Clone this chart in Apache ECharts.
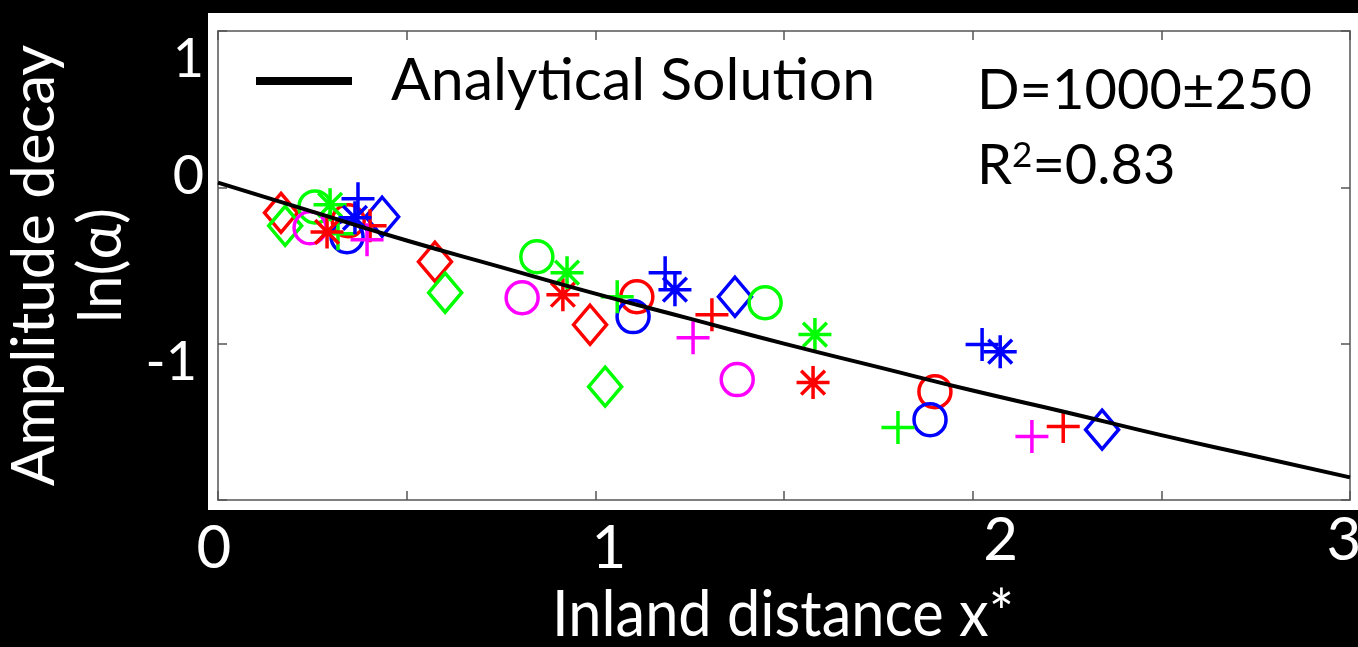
<!DOCTYPE html>
<html>
<head>
<meta charset="utf-8">
<title>Amplitude decay vs inland distance</title>
<script src="https://cdn.jsdelivr.net/npm/echarts@6/dist/echarts.min.js"></script>
<style>
  html, body { margin: 0; padding: 0; background: #000; overflow: hidden; }
  #chart { width: 1358px; height: 647px; }
</style>
</head>
<body>
<div id="chart"></div>
<script>
// ---- data -------------------------------------------------------------
// analytical curve, ln(alpha) vs x*
const analyticalX = [0, 0.25, 0.5, 0.75, 1.0, 1.25, 1.5, 1.75, 2.0, 2.25, 2.5, 2.75, 3.0];
const analyticalY = [0.03, -0.155, -0.34, -0.51, -0.68, -0.84, -1.0, -1.15, -1.3, -1.44, -1.585, -1.72, -1.855];

// observations: [x*, ln(alpha)]
const redDiamond     = [[0.167, -0.163], [0.575, -0.476], [0.986, -0.879]];
const greenDiamond   = [[0.178, -0.246], [0.602, -0.674], [1.026, -1.275]];
const blueDiamond    = [[0.435, -0.188], [1.370, -0.700], [2.343, -1.550]];
const redCircle      = [[0.345, -0.214], [1.110, -0.700], [1.900, -1.307]];
const greenCircle    = [[0.257, -0.125], [0.845, -0.444], [1.450, -0.738]];
const blueCircle     = [[0.342, -0.316], [1.100, -0.827], [1.887, -1.486]];
const magentaCircle  = [[0.244, -0.259], [0.806, -0.706], [1.376, -1.230]];
const redPlus        = [[0.403, -0.246], [1.309, -0.815], [2.240, -1.530]];
const greenPlus      = [[0.318, -0.297], [1.058, -0.700], [1.802, -1.537]];
const bluePlus       = [[0.371, -0.073], [1.185, -0.546], [2.025, -1.006]];
const magentaPlus    = [[0.395, -0.335], [1.259, -0.962], [2.157, -1.594]];
const redAsterisk    = [[0.289, -0.285], [0.914, -0.687], [1.577, -1.249]];
const greenAsterisk  = [[0.297, -0.112], [0.925, -0.546], [1.582, -0.942]];
const blueAsterisk   = [[0.363, -0.195], [1.211, -0.655], [2.073, -1.051]];

// axis tick labels
const xTickValues = [0, 1, 2, 3];
const xTickLabels = ['0', '1', '2', '3'];
const yTickValues = [1, 0, -1];
const yTickLabels = ['1', '0', '-1'];

// \u200c keeps Lato from fusing "ti" into a ligature
const curveName = 'Analy\u200ctical Solu\u200ction';
const fitLine1 = 'D=1000\u00b1250';
const fitLine2 = '{r|R}{s|2}{r|=0.83}';

// ---- styling ------------------------------------------------------------
const FONT = 'Lato, "Open Sans", sans-serif';
const RED = '#ff0000', GREEN = '#00ff00', BLUE = '#0000ff', MAGENTA = '#ff00ff';
const FRAME = '#555555';

const PLUS = 'path://M0,-10L0,10M-10,0L10,0';
const ASTERISK = 'path://M0,-10L0,10M-10,0L10,0M-7.2,-7.2L7.2,7.2M-7.2,7.2L7.2,-7.2';

const shapes = {
  diamond:  { symbol: 'diamond', size: [33, 39] },
  circle:   { symbol: 'circle', size: 32 },
  plus:     { symbol: PLUS, size: 33 },
  asterisk: { symbol: ASTERISK, size: 33 }
};

const groups = [
  { data: redDiamond,    color: RED,     shape: 'diamond' },
  { data: greenDiamond,  color: GREEN,   shape: 'diamond' },
  { data: blueDiamond,   color: BLUE,    shape: 'diamond' },
  { data: redCircle,     color: RED,     shape: 'circle' },
  { data: greenCircle,   color: GREEN,   shape: 'circle' },
  { data: blueCircle,    color: BLUE,    shape: 'circle' },
  { data: magentaCircle, color: MAGENTA, shape: 'circle' },
  { data: redPlus,       color: RED,     shape: 'plus' },
  { data: greenPlus,     color: GREEN,   shape: 'plus' },
  { data: bluePlus,      color: BLUE,    shape: 'plus' },
  { data: magentaPlus,   color: MAGENTA, shape: 'plus' },
  { data: redAsterisk,   color: RED,     shape: 'asterisk' },
  { data: greenAsterisk, color: GREEN,   shape: 'asterisk' },
  { data: blueAsterisk,  color: BLUE,    shape: 'asterisk' }
];

// per-label nudges for the hand-placed tick numbers
const xLabelRich = {
  x0: { padding: [15, 8, 0, 0] },
  x1: { padding: [15, 0, 0, 27] },
  x2: { padding: [0, 0, 0, 56] },
  x3: { padding: [0, 12, 0, 0] }
};
const yLabelRich = {
  y0: { padding: [58, 0, 0, 0] },
  y1: { padding: [0, 0, 22, 0] },
  y2: { padding: [38, 7, 0, 0] }
};

const frameLine = { show: true, onZero: false, lineStyle: { color: FRAME, width: 1.5 } };
const frameTick = { show: true, inside: true, length: 9, lineStyle: { color: FRAME, width: 1.5 } };

const scatterSeries = groups.map((g, i) => ({
  type: 'scatter',
  name: 'obs' + i,
  data: g.data,
  symbol: shapes[g.shape].symbol,
  symbolSize: shapes[g.shape].size,
  itemStyle: { color: 'rgba(0,0,0,0)', borderColor: g.color, borderWidth: 3.5, opacity: 1 },
  emphasis: { disabled: true },
  z: 2
}));

const chart = echarts.init(document.getElementById('chart'), null, { renderer: 'canvas' });

chart.setOption({
  backgroundColor: '#000000',
  animation: false,
  textStyle: { fontFamily: FONT },
  graphic: [
    { type: 'rect', z: -10, silent: true,
      shape: { x: 208, y: 13, width: 1150, height: 497 },
      style: { fill: '#ffffff' } },
    { type: 'text', z: 10, silent: true, x: 977, y: 91,
      style: { text: fitLine1, fontFamily: FONT, fontSize: 56, fill: '#000',
               align: 'left', verticalAlign: 'middle' } },
    { type: 'text', z: 10, silent: true, x: 977, y: 166,
      style: { text: fitLine2, fontFamily: FONT, fontSize: 56, fill: '#000',
               align: 'left', verticalAlign: 'middle',
               rich: {
                 r: { fontFamily: FONT, fontSize: 56, lineHeight: 56, fill: '#000' },
                 s: { fontFamily: FONT, fontSize: 35, lineHeight: 44, fill: '#000', verticalAlign: 'top' }
               } } },
    { type: 'text', z: 10, silent: true, x: 783, y: 615, scaleX: 0.93,
      style: { text: 'Inland distance x*', fontFamily: FONT, fontSize: 64, fill: '#fff',
               align: 'center', verticalAlign: 'middle' } }
  ],
  legend: {
    data: [curveName],
    left: 251, top: 46,
    icon: 'rect',
    itemWidth: 96, itemHeight: 8,
    selectedMode: false,
    textStyle: { fontFamily: FONT, fontSize: 59, lineHeight: 60, color: '#000', padding: [0, 0, 0, 34] }
  },
  grid: { left: 218, top: 31, right: 8, bottom: 147, containLabel: false, outerBoundsMode: 'none', show: false },
  xAxis: [
    {
      type: 'value', min: 0, max: 3, interval: 0.5, position: 'bottom',
      axisLine: frameLine, axisTick: frameTick, splitLine: { show: false },
      axisLabel: {
        show: true, margin: 11, color: '#fff', fontFamily: FONT, fontSize: 60, lineHeight: 60,
        rich: xLabelRich,
        formatter: v => {
          const i = xTickValues.indexOf(v);
          return i < 0 ? '' : '{x' + i + '|' + xTickLabels[i] + '}';
        }
      }
    },
    {
      type: 'value', min: 0, max: 3, interval: 0.5, position: 'top',
      axisLine: frameLine, axisTick: frameTick, splitLine: { show: false },
      axisLabel: { show: false }
    }
  ],
  yAxis: [
    {
      type: 'value', min: -2, max: 1, interval: 1, position: 'left',
      axisLine: frameLine, axisTick: frameTick, splitLine: { show: false },
      name: 'Amplitude decay\nln(\u03b1)',
      nameLocation: 'middle', nameRotate: 90, nameGap: 71,
      nameTextStyle: { color: '#fff', fontFamily: FONT, fontSize: 60, lineHeight: 67, align: 'center' },
      axisLabel: {
        show: true, margin: 14, color: '#fff', fontFamily: FONT, fontSize: 54, lineHeight: 54,
        rich: yLabelRich,
        formatter: v => {
          const i = yTickValues.indexOf(v);
          return i < 0 ? '' : '{y' + i + '|' + yTickLabels[i] + '}';
        }
      }
    },
    {
      type: 'value', min: -2, max: 1, interval: 1, position: 'right',
      axisLine: frameLine, axisTick: frameTick, splitLine: { show: false },
      axisLabel: { show: false }
    }
  ],
  series: scatterSeries.concat([{
    type: 'line',
    name: curveName,
    data: analyticalX.map((x, i) => [x, analyticalY[i]]),
    smooth: true,
    showSymbol: false,
    symbol: 'none',
    lineStyle: { color: '#000', width: 4 },
    itemStyle: { color: '#000' },
    emphasis: { disabled: true },
    z: 5
  }])
});
</script>
</body>
</html>
